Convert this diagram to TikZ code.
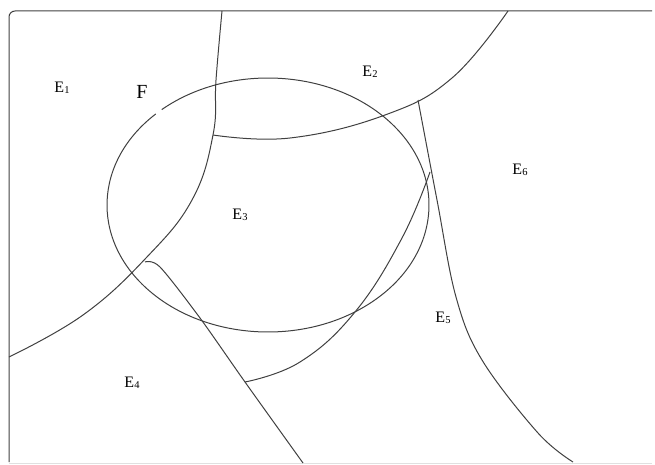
\documentclass[tikz,border=0pt]{standalone}
\usepackage{fontspec}
\setmainfont{Liberation Serif}
\tikzset{
  boundary/.style={draw=black!75, line width=1pt},
  faint/.style={draw=black!12, line width=0.8pt},
  region/.style={font=\fontsize{16}{18}\selectfont, inner sep=0pt},
  setname/.style={font=\fontsize{20}{22}\selectfont, inner sep=0pt}
}
\newcommand{\Ereg}[1]{E\raisebox{-1.5pt}{\fontsize{10.5}{11}\selectfont #1}}

\begin{document}
\begin{tikzpicture}[x=1pt,y=-1pt]
  \useasboundingbox (0,0) rectangle (655,465);

  % frame
  \draw[boundary, rounded corners=6pt] (9,462) -- (9,11) -- (652,11);
  \draw[faint] (9,463) -- (652,463);

  % the set F, with its small break
  \draw[boundary] (268,205) ++(228.7:161 and 127)
    arc[start angle=228.7, end angle=585.8, x radius=161, y radius=127];

  % region boundaries
  \draw[boundary] plot[smooth, tension=0.7] coordinates {(222,11) (216,80) (213,135) (192,200) (146,258) (83,315) (9,357)};
  \draw[boundary] plot[smooth, tension=0.7] coordinates {(213,135) (290,138) (385,115) (452,78) (508,11)};
  \draw[boundary] plot[smooth, tension=0.6] coordinates {(418,100) (437,200) (456,297) (482,360) (538,433) (573,462)};
  \draw[boundary] plot[smooth, tension=0.7] coordinates {(430,172) (402,238) (355,312) (300,362) (245,382)};
  \draw[boundary] plot[smooth, tension=0.5] coordinates {(145,262) (160,267) (200,318) (245,382) (303,463)};

  % labels
  \node[region] (e1) at (62,88) {\Ereg{1}};
  \node[setname] (f) at (142,92) {F};
  \node[region] (e2) at (370,72) {\Ereg{2}};
  \node[region] (e3) at (240,215) {\Ereg{3}};
  \node[region] (e4) at (132,383) {\Ereg{4}};
  \node[region] (e5) at (443,318) {\Ereg{5}};
  \node[region] (e6) at (520,170) {\Ereg{6}};
\end{tikzpicture}
\end{document}
